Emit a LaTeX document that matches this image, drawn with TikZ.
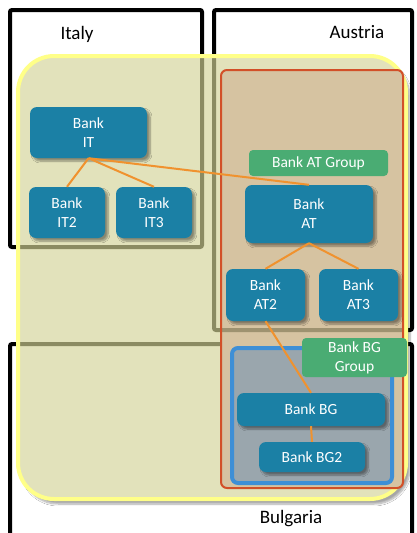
\documentclass[tikz,border=0pt]{standalone}
\usepackage{fontspec}
\setmainfont{Carlito}
\usetikzlibrary{shadows.blur}

\definecolor{panelFill}{RGB}{226,226,187}
\definecolor{panelEdge}{RGB}{255,255,136}
\definecolor{seenLine}{RGB}{139,139,98}
\definecolor{tanFill}{RGB}{214,195,161}
\definecolor{tanLine}{RGB}{158,146,112}
\definecolor{redEdge}{RGB}{210,80,40}
\definecolor{blueEdge}{RGB}{62,143,214}
\definecolor{blueFill}{RGB}{154,166,173}
\definecolor{bankFill}{RGB}{27,128,165}
\definecolor{groupFill}{RGB}{74,172,115}
\definecolor{linkOrange}{RGB}{240,146,46}

\begin{document}
\begin{tikzpicture}[x=1pt,y=-1pt,
  frame/.style={line width=4pt, rounded corners=2pt},
  bank/.style={fill=bankFill, rounded corners=7pt, text=white, align=center,
    font=\fontsize{15.5}{19}\selectfont, inner sep=0pt,
    blur shadow={shadow xshift=3pt, shadow yshift=-3pt, shadow opacity=40, shadow blur steps=6}},
  group/.style={fill=groupFill, rounded corners=4pt, text=white, align=center,
    font=\fontsize{15.5}{19}\selectfont, inner sep=0pt},
  link/.style={draw=linkOrange, line width=2pt},
  country/.style={font=\fontsize{19}{22}\selectfont}
]
\useasboundingbox[fill=white] (0,0) rectangle (416,533);

% country frames
\draw[frame] (10,247) rectangle (202,10);
\draw[frame] (214,330) rectangle (412,10);
\draw[frame] (10,545) -- (10,344) -- (412,344) -- (412,545);

% translucent-looking yellow panel with the frames seen through it
\fill[panelFill, rounded corners=36pt,
  blur shadow={shadow xshift=4pt, shadow yshift=-5pt, shadow opacity=35, shadow blur steps=8}]
  (18,56) rectangle (406,499);
\begin{scope}
  \clip[rounded corners=36pt] (18,56) rectangle (406,499);
  \draw[frame, seenLine] (10,247) rectangle (202,10);
  \draw[frame, seenLine] (214,330) rectangle (412,10);
  \draw[frame, seenLine] (10,545) -- (10,344) -- (412,344) -- (412,545);
\end{scope}
\draw[panelEdge, line width=4pt, rounded corners=36pt] (18,56) rectangle (406,499);

% Austrian group panel
\fill[tanFill, rounded corners=6pt] (221,70) rectangle (403,488);
\begin{scope}
  \clip[rounded corners=6pt] (221,70) rectangle (403,488);
  \draw[frame, tanLine] (214,330) rectangle (412,10);
\end{scope}
\draw[redEdge, line width=2pt, rounded corners=6pt] (221,70) rectangle (403,488);

% Bulgarian group panel
\draw[fill=blueFill, draw=blueEdge, line width=4pt, rounded corners=6pt] (232,348) rectangle (392,483);

% country names
\node[country] (italy) at (77,34) {Italy};
\node[country] (austria) at (357,32) {Austria};
\node[country] (bulgaria) at (291,519) {Bulgaria};

% banks
\node[bank, minimum width=117pt, minimum height=51pt] (it) at (88.5,132.5) {Bank\\IT};
\node[bank, minimum width=76pt, minimum height=51pt] (it2) at (67,212.5) {Bank\\IT2};
\node[bank, minimum width=76pt, minimum height=51pt] (it3) at (154,212.5) {Bank\\IT3};
\node[group, minimum width=139pt, minimum height=26pt] (atg) at (318.5,163) {Bank AT Group};
\node[bank, minimum width=128pt, minimum height=58pt] (at) at (309,214) {Bank\\AT};
\node[bank, minimum width=79pt, minimum height=52pt] (at2) at (265.5,295) {Bank\\AT2};
\node[bank, minimum width=79pt, minimum height=52pt] (at3) at (358.5,295) {Bank\\AT3};
\node[bank, minimum width=148pt, minimum height=33pt] (bg) at (311,409.5) {Bank BG};
\node[bank, minimum width=106pt, minimum height=30pt] (bg2) at (312,457) {Bank BG2};
\node[group, minimum width=105pt, minimum height=39pt] (bgg) at (354.5,357.5) {Bank BG\\Group};

% ownership links
\draw[link] (it.south) -- (it2.north);
\draw[link] (it.south) -- (it3.north);
\draw[link] (it.south) -- (at.north);
\draw[link] (at.south) -- (at2.north);
\draw[link] (at.south) -- (at3.north);
\draw[link] (at2.south) -- (bg.north);
\draw[link] (bg.south) -- (bg2.north);
\end{tikzpicture}
\end{document}
